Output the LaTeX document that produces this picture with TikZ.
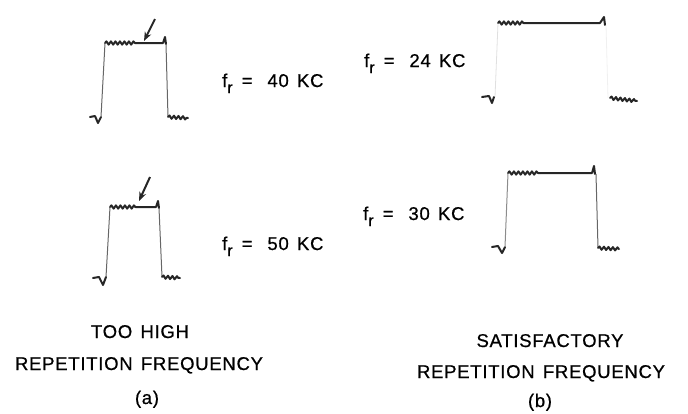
\documentclass[tikz,border=0pt]{standalone}
\usepackage{fontspec}
\setmainfont[LetterSpace=4, FakeBold=0.7, WordSpace=1.4]{Liberation Sans}
\usetikzlibrary{decorations.pathmorphing,arrows.meta}
\newcommand{\frlabel}[1]{f\raisebox{-6pt}{\fontsize{16}{16}\selectfont r}\hspace{9pt}=\hspace{15pt}#1}
\begin{document}
\begin{tikzpicture}[x=1pt,y=-1pt,
  trace/.style={line width=2pt, black!85, line join=round, line cap=round},
  edgeline/.style={line width=1pt, black!60},
  faint/.style={line width=0.8pt, black!12},
  wig/.style={decorate, decoration={snake, amplitude=1.6pt, segment length=4.5pt}},
  pointer/.style={line width=2pt, black!85, -{Stealth[length=9pt,width=7pt]}},
  lbl/.style={font=\fontsize{18.5}{22}\selectfont, inner sep=0pt, anchor=base west},
  captext/.style={font=\fontsize{18.5}{22}\selectfont, inner sep=0pt, anchor=base}]
\useasboundingbox (0,0) rectangle (688,413);
% ---------- (a) top, 40 KC ----------
\draw[trace] (90,117) -- (95,116) -- (98,123) -- (101,117);
\draw[edgeline] (101,117) -- (105,43);
\draw[trace, wig] (105,43) -- (136,43);
\draw[trace] (136,43) -- (163,43) -- (165,37) -- (166,44);
\draw[edgeline] (166,44) -- (168,117);
\draw[trace, wig] (168,117) -- (188,118);
\coordinate (a1from) at (155,19);
\coordinate (a1to) at (144,41);
\draw[pointer] (a1from) -- (a1to);
% ---------- (a) bottom, 50 KC ----------
\draw[trace] (93,278) -- (99,277) -- (103,285) -- (106,277);
\draw[edgeline] (106,277) -- (110,207);
\draw[trace, wig] (110,207) -- (137,207);
\draw[trace] (137,207) -- (156,207) -- (158,201) -- (159,208);
\draw[edgeline] (159,208) -- (162,277);
\draw[trace, wig] (162,277) -- (180,278);
\coordinate (a2from) at (150,177);
\coordinate (a2to) at (139,201);
\draw[pointer] (a2from) -- (a2to);
% ---------- (b) top, 24 KC ----------
\draw[trace] (482,97) -- (489,96) -- (492,103) -- (494,97);
\draw[faint] (495,97) -- (498,23);
\draw[trace, wig] (498,23) -- (524,23);
\draw[trace] (524,23) -- (600,23) -- (604,17) -- (605,25);
\draw[faint, black!6] (606,25) -- (608,98);
\draw[trace, wig] (610,98) -- (637,101);
% ---------- (b) bottom, 30 KC ----------
\draw[trace] (492,247) -- (498,246) -- (502,253) -- (505,247);
\draw[edgeline, black!45] (505,247) -- (508,173);
\draw[trace, wig] (508,173) -- (540,173);
\draw[trace] (540,173) -- (592,173) -- (594,166) -- (595,174);
\draw[edgeline] (596,174) -- (598,248);
\draw[trace, wig] (598,248) -- (619,249);
% ---------- labels ----------
\node[lbl] (f40) at (222,87) {\frlabel{40 KC}};
\node[lbl] (f50) at (222,250) {\frlabel{50 KC}};
\node[lbl] (f24) at (364,67) {\frlabel{24 KC}};
\node[lbl] (f30) at (363,220) {\frlabel{30 KC}};
\node[captext] (tooHigh) at (140,338) {TOO HIGH};
\node[captext] (repA) at (139,370) {REPETITION FREQUENCY};
\node[captext] (capA) at (147,404) {(a)};
\node[captext] (satis) at (550,347) {SATISFACTORY};
\node[captext] (repB) at (541,378) {REPETITION FREQUENCY};
\node[captext] (capB) at (540,407) {(b)};
\end{tikzpicture}
\end{document}
